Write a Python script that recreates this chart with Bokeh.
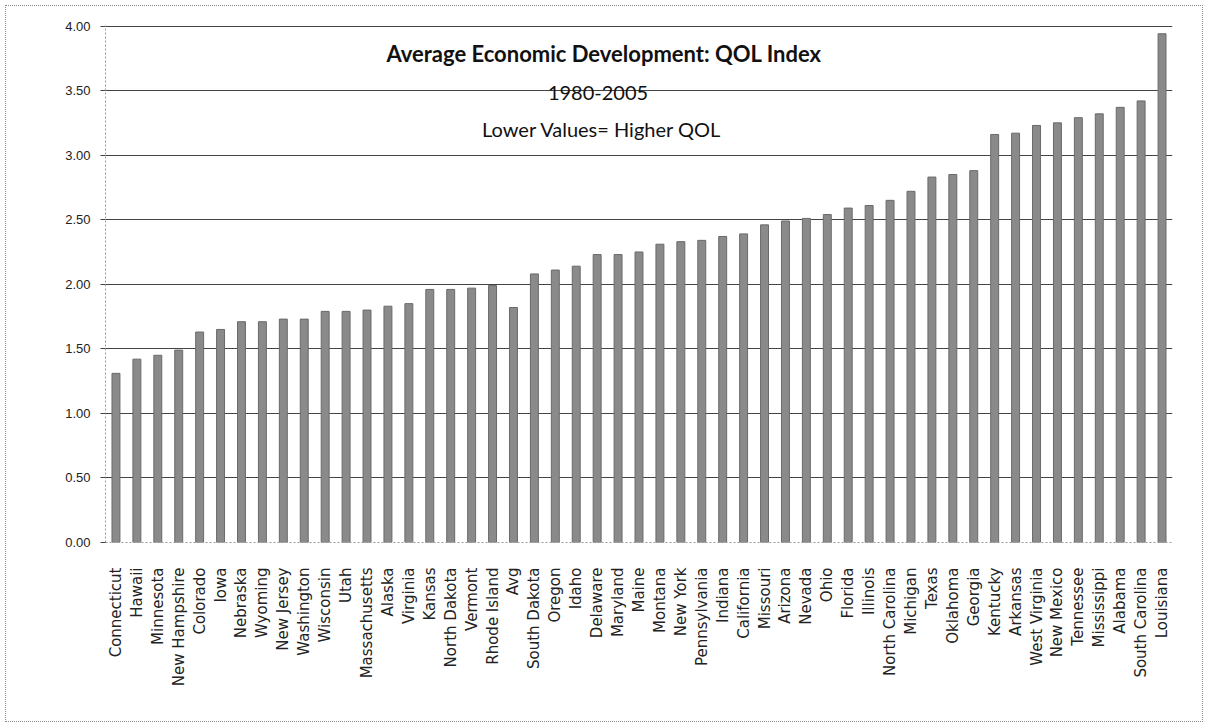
from bokeh.plotting import figure
from bokeh.models import ColumnDataSource, Label, FixedTicker, NumeralTickFormatter, Range1d
from bokeh.embed import file_html
from bokeh.resources import INLINE
from math import pi

states = ["Connecticut", "Hawaii", "Minnesota", "New Hampshire", "Colorado", "Iowa",
          "Nebraska", "Wyoming", "New Jersey", "Washington", "Wisconsin", "Utah",
          "Massachusetts", "Alaska", "Virginia", "Kansas", "North Dakota", "Vermont",
          "Rhode Island", "Avg", "South Dakota", "Oregon", "Idaho", "Delaware",
          "Maryland", "Maine", "Montana", "New York", "Pennsylvania", "Indiana",
          "California", "Missouri", "Arizona", "Nevada", "Ohio", "Florida", "Illinois",
          "North Carolina", "Michigan", "Texas", "Oklahoma", "Georgia", "Kentucky",
          "Arkansas", "West Virginia", "New Mexico", "Tennessee", "Mississippi",
          "Alabama", "South Carolina", "Louisiana"]

qol = [1.31, 1.42, 1.45, 1.49, 1.63, 1.65,
       1.71, 1.71, 1.73, 1.73, 1.79, 1.79,
       1.80, 1.83, 1.85, 1.96, 1.96, 1.97,
       1.99, 1.82, 2.08, 2.11, 2.14, 2.23,
       2.23, 2.25, 2.31, 2.33, 2.34, 2.37,
       2.39, 2.46, 2.49, 2.51, 2.54, 2.59, 2.61,
       2.65, 2.72, 2.83, 2.85, 2.88, 3.16,
       3.17, 3.23, 3.25, 3.29, 3.32,
       3.37, 3.42, 3.94]

y_ticks = [0, 0.5, 1.0, 1.5, 2.0, 2.5, 3.0, 3.5, 4.0]
title_lines = ["Average Economic Development: QOL Index", "1980-2005", "Lower Values= Higher QOL"]

source = ColumnDataSource(data=dict(state=states, qol=qol))

p = figure(x_range=states, y_range=Range1d(0, 4.004), width=1198, height=717,
           output_backend="svg", toolbar_location=None,
           min_border_left=99, min_border_right=32, min_border_top=19, min_border_bottom=181)
p.styles = {"border": "1px dotted #8a8a8a", "margin-left": "5px", "margin-top": "5px"}
p.x_range.range_padding = 0

p.vbar(x="state", top="qol", width=0.38, source=source,
       fill_color="#8a8a8a", line_color="#6a6a6a", line_width=1)

p.outline_line_color = None
p.background_fill_color = "white"
p.border_fill_color = "white"

p.xgrid.grid_line_color = None
p.ygrid.grid_line_color = "#444444"
p.ygrid.grid_line_width = 1
p.ygrid.ticker = FixedTicker(ticks=y_ticks)

p.yaxis.ticker = FixedTicker(ticks=y_ticks)
p.yaxis.formatter = NumeralTickFormatter(format="0.00")
p.yaxis.axis_line_color = "#9a9a9a"
p.yaxis.axis_line_dash = "2 2"
p.yaxis.major_tick_line_color = "#444444"
p.yaxis.major_tick_out = 5
p.yaxis.major_tick_in = 0
p.yaxis.minor_tick_line_color = None
p.yaxis.major_label_text_font = "Liberation Sans"
p.yaxis.major_label_text_font_size = "13px"
p.yaxis.major_label_text_color = "#222222"
p.yaxis.major_label_standoff = 10

p.xaxis.axis_line_color = "#9a9a9a"
p.xaxis.axis_line_dash = "2 2"
p.xaxis.major_tick_line_color = None
p.xaxis.major_tick_out = 0
p.xaxis.major_tick_in = 0
p.xaxis.major_label_orientation = pi / 2
p.xaxis.major_label_text_font = "DejaVu Sans"
p.xaxis.major_label_text_font_size = "15px"
p.xaxis.major_label_text_color = "#222222"
p.xaxis.major_label_standoff = 25

p.add_layout(Label(x=23.83, y=3.79, text=title_lines[0], text_align="center",
                   text_baseline="middle", text_font="Lato", text_font_style="bold",
                   text_font_size="22px", text_color="#111111"))
p.add_layout(Label(x=23.54, y=3.48, text=title_lines[1], text_align="center",
                   text_baseline="middle", text_font="Lato",
                   text_font_size="20px", text_color="#111111"))
p.add_layout(Label(x=23.73, y=3.20, text=title_lines[2], text_align="center",
                   text_baseline="middle", text_font="Lato",
                   text_font_size="20px", text_color="#111111"))

open("out.html", "w").write(file_html(p, INLINE))
